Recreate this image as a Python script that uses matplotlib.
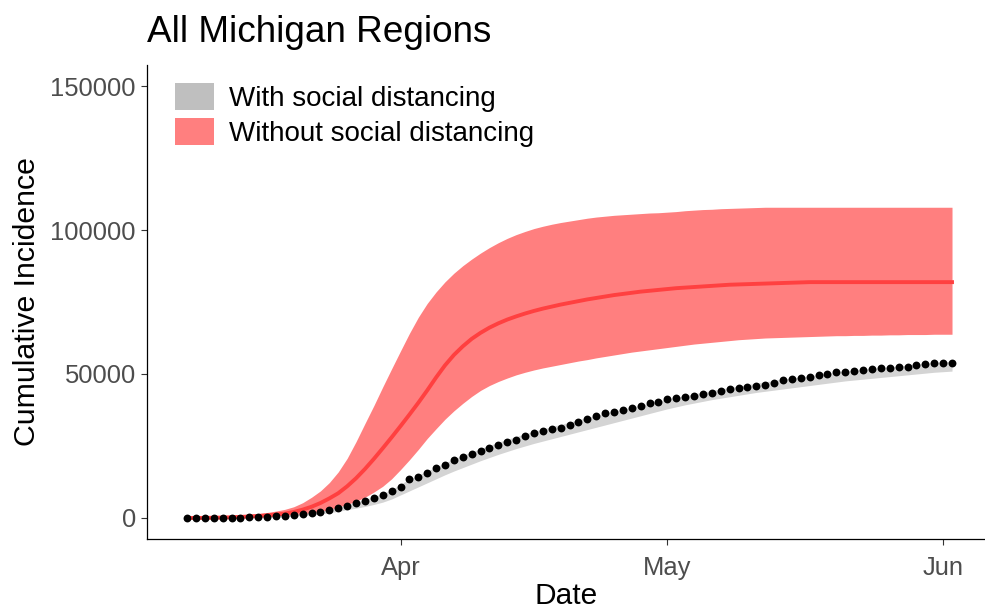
import matplotlib
matplotlib.use('Agg')
import matplotlib.pyplot as plt
from matplotlib.patches import Patch
import pandas as pd

# daily values, 2020-03-08 .. 2020-06-02
dates = pd.date_range('2020-03-08', '2020-06-02', freq='D')

observed = [
    0, 0, 10, 20, 30, 60, 100, 200, 300, 400, 550, 800, 1100, 1400, 1800, 2200,
    2800, 3400, 4300, 5100, 6000, 6900, 8000, 9200,
    10700, 13400, 14200, 15500, 17200, 18400, 20100, 21100, 22100, 23400, 24300,
    25400, 26500, 27100, 28400, 29600, 30200, 30800, 31400, 32300, 33300, 34500,
    35400, 36500, 36900, 37500, 38300, 38900, 39800, 40400,
    41400, 41800, 42100, 42500, 43000, 43500, 44200, 44700, 45200, 45600, 45800,
    46200, 47000, 47900, 48300, 48700, 49100, 49600, 50100, 50600, 50800, 51000,
    51400, 51700, 52100, 52200, 52300, 52500, 53100, 53400, 53700,
    53800, 53900,
]

grey_lo = [
    0, 0, 0, 0, 0, 0, 0, 50, 100, 150, 250, 400, 600, 850, 1100, 1400, 1800,
    2300, 2900, 3400, 4000, 4700, 5500, 6600,
    8000, 9400, 10800, 12200, 13600, 15000, 16300, 17500, 18700, 19900, 21000,
    22100, 23100, 24100, 25000, 25900, 26700, 27500, 28300, 29100, 29900, 30700,
    31500, 32300, 33100, 33900, 34700, 35500, 36300, 37100,
    37900, 38600, 39300, 39900, 40500, 41100, 41600, 42100, 42600, 43100, 43600,
    44000, 44400, 44800, 45200, 45600, 46000, 46400, 46800, 47200, 47600, 47900,
    48200, 48500, 48800, 49100, 49400, 49700, 50000, 50300, 50600, 50800, 51000,
]
grey_hi = [
    100, 100, 100, 100, 100, 100, 150, 300, 400, 550, 750, 1000, 1300, 1700,
    2100, 2600, 3200, 3900, 4700, 5500, 6400, 7400, 8500, 9700,
    11800, 13400, 14900, 16300, 17700, 19100, 20500, 21700, 22900, 24100, 25200,
    26300, 27300, 28300, 29200, 30100, 30900, 31700, 32500, 33300, 34100, 34900,
    35700, 36400, 37100, 37800, 38500, 39200, 39900, 40600,
    41300, 41900, 42500, 43100, 43700, 44300, 44800, 45300, 45800, 46300, 46800,
    47300, 47800, 48200, 48600, 49000, 49400, 49800, 50200, 50600, 51000, 51300,
    51600, 51900, 52200, 52500, 52800, 53100, 53400, 53700, 54000, 54200, 54400,
]

red_lo = [
    0, 0, 30, 60, 100, 150, 200, 300, 400, 550, 750, 950, 1200, 1500, 1900, 2300,
    3000, 3800, 4700, 5800, 7200, 9000, 11000, 13600, 16800, 20200, 23800, 27600,
    31000, 34300, 37200, 39800, 42200, 44300, 46000, 47400, 48600, 49700, 50600,
    51400, 52100, 52700, 53300, 53900, 54500, 55000, 55600, 56100, 56600, 57100,
    57600, 58000, 58400, 58800, 59200, 59600, 60000, 60400, 60700, 61000, 61300,
    61600, 61900, 62100, 62300, 62500, 62600, 62700, 62800, 62900, 63000, 63100,
    63200, 63300, 63300, 63400, 63400, 63500, 63500, 63600, 63600, 63700, 63700,
    63700, 63800, 63800, 63800,
]
red_mid = [
    0, 10, 30, 80, 150, 250, 380, 520, 700, 950, 1200, 1500, 2100, 2900, 3900,
    5200, 6800, 8600, 11000, 13800, 17000, 20500, 24200, 28000, 31900, 35900,
    40000, 44300, 48800, 53000, 56600, 59600, 62200, 64300, 66100, 67600, 68900,
    70000, 71000, 71900, 72700, 73400, 74100, 74700, 75300, 75900, 76400, 76900,
    77400, 77800, 78200, 78600, 78900, 79200, 79500, 79800, 80000, 80200, 80400,
    80600, 80800, 81000, 81100, 81200, 81300, 81400, 81500, 81600, 81700, 81800,
    81900, 81900, 81900, 81900, 81900, 81900, 81900, 81900, 81900, 81900, 81900,
    81900, 81900, 81900, 81900, 81900, 81900,
]
red_hi = [
    0, 50, 100, 250, 450, 700, 950, 1200, 1500, 1900, 2400, 3000, 3900, 5300,
    7200, 9400, 12300, 16000, 20700, 26500, 32800, 39000, 45500, 51800, 58000,
    64100, 69700, 74500, 78500, 82000, 85000, 87600, 89900, 92000, 93900, 95600,
    97100, 98400, 99500, 100500, 101300, 102000, 102600, 103100, 103600, 104100,
    104500, 104800, 105100, 105300, 105500, 105700, 105900, 106000, 106200,
    106400, 106700, 106900, 107100, 107200, 107400, 107500, 107600, 107700,
    107800, 107900, 107900, 107900, 107900, 107900, 107900, 107900, 107900,
    107900, 107900, 107900, 107900, 107900, 107900, 107900, 107900, 107900,
    107900, 107900, 107900, 107900, 107900,
]

legend_labels = ['With social distancing', 'Without social distancing']
tick_dates = ['2020-04-01', '2020-05-01', '2020-06-01']
tick_labels = ['Apr', 'May', 'Jun']

plt.rcParams['font.family'] = ['Liberation Sans', 'DejaVu Sans']

fig = plt.figure(figsize=(9.85, 6.11), dpi=100)
ax = fig.add_axes([147 / 985, 72 / 611, 838 / 985, 474 / 611])

ax.fill_between(dates, grey_lo, grey_hi, color='#D4D4D4', linewidth=0)
ax.fill_between(dates, red_lo, red_hi, color='#FF7F7F', linewidth=0)
ax.plot(dates, red_mid, color='#FF4040', linewidth=2.8)
ax.scatter(dates, observed, s=32, color='black', zorder=5, linewidths=0)

ax.set_xlim(pd.Timestamp('2020-03-08') - pd.Timedelta(hours=108),
            pd.Timestamp('2020-03-08') + pd.Timedelta(hours=2153))
ax.set_ylim(-7300, 157300)
ax.set_xticks(pd.to_datetime(tick_dates))
ax.set_xticklabels(tick_labels)
ax.set_yticks([0, 50000, 100000, 150000])
ax.set_yticklabels(['0', '50000', '100000', '150000'])

for s in ['top', 'right']:
    ax.spines[s].set_visible(False)
for s in ['left', 'bottom']:
    ax.spines[s].set_linewidth(0.9)
    ax.spines[s].set_color('black')
ax.tick_params(length=4, width=0.8, color='#333333', labelsize=18.4,
               labelcolor='#4D4D4D', pad=4)
ax.tick_params(axis='x', pad=8)

handles = [Patch(facecolor='#BFBFBF', edgecolor='none'),
           Patch(facecolor='#FF7F7F', edgecolor='none')]
ax.legend(handles, legend_labels, loc='upper left', bbox_to_anchor=(0.034, 0.962),
          frameon=False, fontsize=20, handlelength=1.37, handleheight=1.1,
          handletextpad=0.57, labelspacing=0.24, borderpad=0, borderaxespad=0)

fig.text(147 / 985, 1 - 42 / 611, 'All Michigan Regions', fontsize=26.6,
         va='baseline', ha='left')
fig.text(27 / 985, 1 - 302 / 611, 'Cumulative Incidence', fontsize=21.8,
         rotation=90, va='center', ha='center')
fig.text(566 / 985, 1.5 / 611, 'Date', fontsize=21.5, va='bottom',
         ha='center')

fig.savefig('out.png', dpi=100)
